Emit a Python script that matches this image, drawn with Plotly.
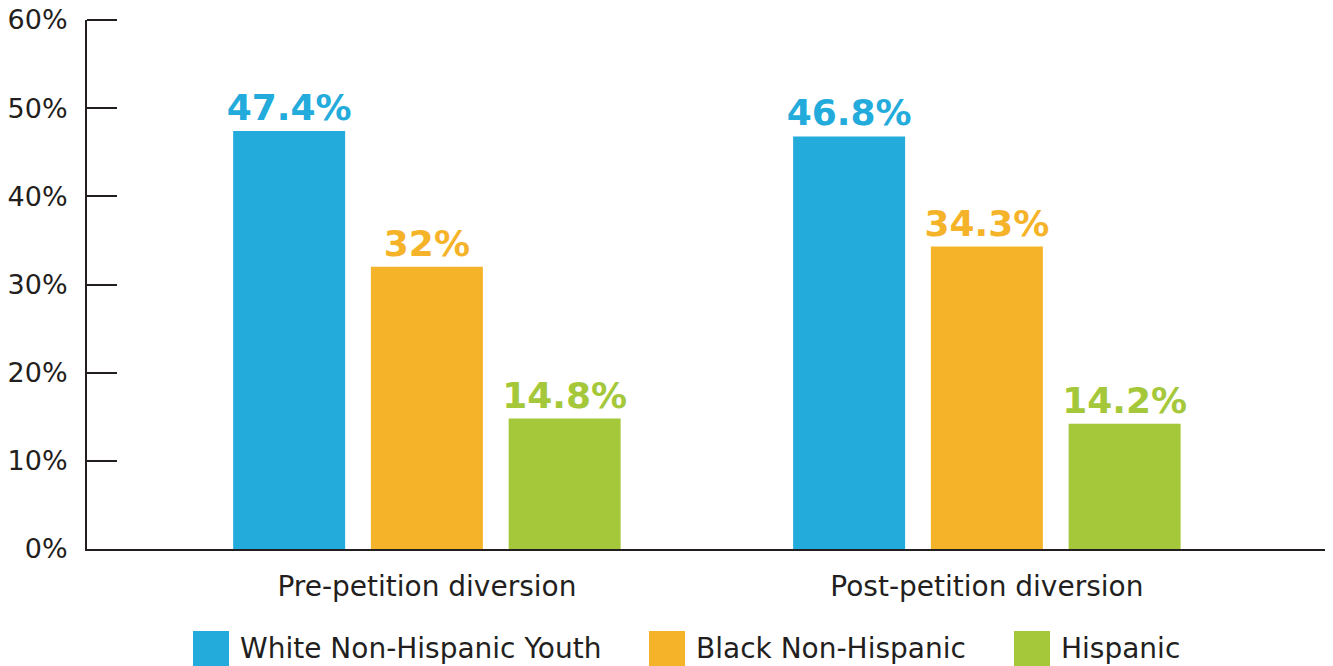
import plotly.graph_objects as go

# data
categories = ['Pre-petition diversion', 'Post-petition diversion']
groups = ['White Non-Hispanic Youth', 'Black Non-Hispanic', 'Hispanic']
white = [47.4, 46.8]
black = [32, 34.3]
hispanic = [14.8, 14.2]
y_ticks = [0, 10, 20, 30, 40, 50, 60]
colors = ['#22ABDB', '#F5B329', '#A5C83A']

FONT = 'DejaVu Sans'
INK = '#231F20'

# the page puts the figure 8px in from the corner, so the figure is a bit smaller
W, H = 1325, 658
L, R, T, B = 79, 4, 12, 117
PW = W - L - R
PH = H - T - B

fig = go.Figure()
for name, vals, col in zip(groups, [white, black, hispanic], colors):
    fig.add_trace(go.Bar(
        x=[0, 1], y=vals, name=name, marker=dict(color=col, line=dict(width=0)),
        text=['<b>%g%%</b>' % v for v in vals], textposition='outside',
        constraintext='none',
        textfont=dict(family=FONT, size=36, color=col), cliponaxis=False,
        showlegend=False))

fig.update_layout(
    width=W, height=H,
    margin=dict(l=L, r=R, t=T, b=B),
    paper_bgcolor='white', plot_bgcolor='white',
    barmode='group', bargap=0.262, bargroupgap=0.187,
    font=dict(family=FONT, color=INK),
)
fig.update_xaxes(range=[-0.607, 1.611], tickvals=[0, 1], ticktext=categories,
                 showline=True, linewidth=2, linecolor=INK, showgrid=False,
                 zeroline=False, ticks='', ticklabelstandoff=11,
                 tickfont=dict(size=28, color=INK))
fig.update_yaxes(range=[0, 60], tickvals=y_ticks, ticktext=['%d%%' % v for v in y_ticks],
                 showline=True, linewidth=2, automargin=False, ticklabeloverflow='allow',
                 linecolor=INK, showgrid=False, zeroline=False, ticks='inside',
                 ticklen=30, tickwidth=2, tickcolor=INK, ticklabelstandoff=12,
                 tickfont=dict(size=27, color=INK))

# plotly drops the inside tick at the top end of the axis, so draw it (axis top = paper 1)
fig.add_shape(type='line', xref='paper', yref='paper', x0=0, x1=30 / PW,
              y0=1, y1=1, line=dict(color=INK, width=2))
# small upturn at the right end of the baseline
fig.add_shape(type='line', xref='paper', yref='paper', x0=1 - 1 / PW, x1=1 - 1 / PW,
              y0=0, y1=12 / PH, line=dict(color=INK, width=2))

# legend drawn by hand so the swatches match the large squares (screen px of reference)
leg_x = [193, 649, 1014]
for name, col, px in zip(groups, colors, leg_x):
    px = px - 8
    fig.add_shape(type='rect', xref='paper', yref='paper',
                  x0=(px - L) / PW, x1=(px + 36 - L) / PW,
                  y0=(T + PH - 658) / PH, y1=(T + PH - 623) / PH,
                  fillcolor=col, line=dict(width=0))
    fig.add_annotation(xref='paper', yref='paper', x=(px + 47 - L) / PW,
                       y=(T + PH - 640) / PH, text=name, showarrow=False,
                       xanchor='left', yanchor='middle', xshift=-2,
                       font=dict(family=FONT, size=28, color=INK))

fig.write_html('out.html')
